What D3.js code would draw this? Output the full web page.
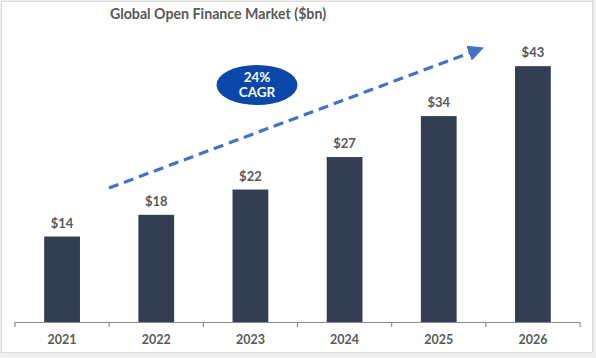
<!DOCTYPE html>
<html><head><meta charset="utf-8">
<script src="https://cdn.jsdelivr.net/npm/d3@7"></script>
<style>
html,body{margin:0;padding:0;background:#efefef;}
svg{display:block;}
</style></head>
<body>
<svg id="chart" width="596" height="358"></svg>
<script>
const years = ["2021","2022","2023","2024","2025","2026"];
const values = [14.2, 17.8, 22.0, 27.4, 34.2, 42.5];
const valueLabels = ["$14","$18","$22","$27","$34","$43"];
const titleText = "Global Open Finance Market ($bn)";
const cagrLines = ["24%","CAGR"];

const svg = d3.select("#chart");
svg.append("rect").attr("x",1.5).attr("y",1.5).attr("width",591).attr("height",351)
  .attr("fill","#ffffff").attr("stroke","#d9d9d9").attr("stroke-width",1);

const font = "Lato, 'Open Sans', sans-serif";
const x = d3.scaleBand().domain(years).range([15,580]).paddingInner(0.62).paddingOuter(0.31);
const y = d3.scaleLinear().domain([0, 50]).range([322, 21]);

svg.append("text").attr("x",218).attr("y",19).attr("text-anchor","middle")
  .attr("font-family",font).attr("font-weight","bold").attr("font-size",14.2)
  .attr("fill","#595959").text(titleText);

svg.selectAll("rect.bar").data(values).join("rect").attr("class","bar")
  .attr("x",(d,i)=>x(years[i])).attr("width",x.bandwidth())
  .attr("y",d=>y(d)).attr("height",d=>y(0)-y(d)).attr("fill","#333f50");

svg.selectAll("text.val").data(values).join("text").attr("class","val")
  .attr("x",(d,i)=>x(years[i])+x.bandwidth()/2).attr("y",d=>y(d)-9)
  .attr("text-anchor","middle").attr("font-family",font).attr("font-weight","bold")
  .attr("font-size",13).attr("fill","#595959").text((d,i)=>valueLabels[i]);

// category axis with ticks at band boundaries
const axisG = svg.append("g");
const [r0, r1] = x.range();
axisG.append("line").attr("x1",r0).attr("x2",r1).attr("y1",322.5).attr("y2",322.5)
  .attr("stroke","#8c8c8c").attr("stroke-width",1.2);
const tickXs = d3.range(years.length+1).map(i=>r0 + i*x.step());
axisG.selectAll("line.tick").data(tickXs).join("line").attr("class","tick")
  .attr("x1",d=>d).attr("x2",d=>d).attr("y1",322).attr("y2",327)
  .attr("stroke","#8c8c8c").attr("stroke-width",1.2);
axisG.selectAll("text.yr").data(years).join("text").attr("class","yr")
  .attr("x",d=>x(d)+x.bandwidth()/2).attr("y",344).attr("text-anchor","middle")
  .attr("font-family",font).attr("font-weight","bold").attr("font-size",12.5)
  .attr("fill","#595959").text(d=>d);

// dashed arrow
const defs = svg.append("defs");
defs.append("marker").attr("id","ah").attr("viewBox","0 0 10 10").attr("refX",2).attr("refY",5)
  .attr("markerWidth",5).attr("markerHeight",5).attr("orient","auto")
  .append("path").attr("d","M0,0 L10,5 L0,10 z").attr("fill","#4472c4");
svg.append("line").attr("x1",109).attr("y1",188).attr("x2",472).attr("y2",52)
  .attr("stroke","#4472c4").attr("stroke-width",3.2).attr("stroke-dasharray","10,6")
  .attr("marker-end","url(#ah)");

// CAGR ellipse
svg.append("ellipse").attr("cx",257).attr("cy",85).attr("rx",40.5).attr("ry",20)
  .attr("fill","#0a47a9");
svg.selectAll("text.cagr").data(cagrLines).join("text").attr("class","cagr")
  .attr("x",257).attr("y",(d,i)=>81.5+i*15.5).attr("text-anchor","middle")
  .attr("font-family",font).attr("font-weight","bold").attr("font-size",13.5)
  .attr("fill","#ffffff").text(d=>d);
</script>
</body></html>
